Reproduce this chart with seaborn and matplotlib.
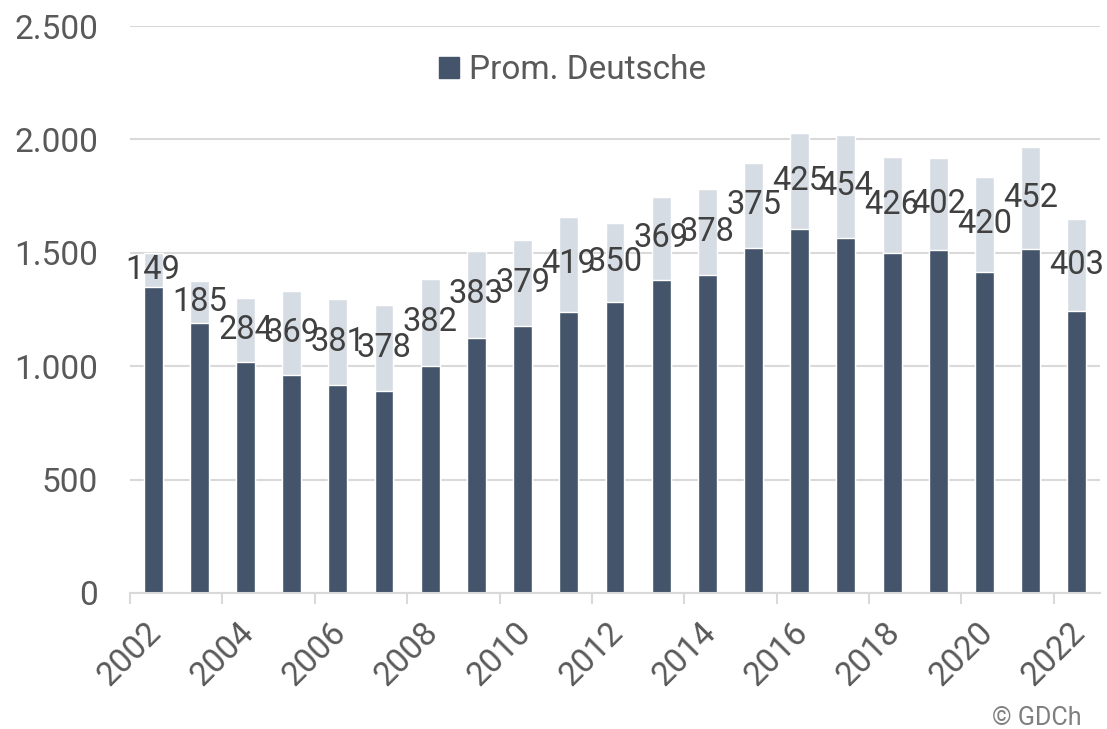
import matplotlib
matplotlib.use('Agg')
import matplotlib.pyplot as plt
import seaborn as sns
import pandas as pd
from matplotlib.patches import Patch
from matplotlib.ticker import FuncFormatter

# Daten
years = list(range(2002, 2023))
deutsche = [1350, 1190, 1018, 962, 916, 891, 1003, 1126, 1177, 1241, 1283,
            1379, 1402, 1523, 1604, 1566, 1498, 1514, 1416, 1516, 1245]
auslaender = [149, 185, 284, 369, 381, 378, 382, 383, 379, 419, 350,
              369, 378, 375, 425, 454, 426, 402, 420, 452, 403]

df = pd.DataFrame({'Jahr': [str(y) for y in years],
                   'Deutsche': deutsche,
                   'Auslaender': auslaender})
df['Gesamt'] = df['Deutsche'] + df['Auslaender']

sns.set_theme(style='white')
plt.rcParams['font.family'] = ['Roboto', 'DejaVu Sans']

dunkel = '#44546A'
hell = '#D6DCE4'

fig = plt.figure(figsize=(11.07, 7.29), dpi=100)
ax = fig.add_axes([0.1174, 0.1866, 0.8763, 0.7777])

sns.barplot(data=df, x='Jahr', y='Gesamt', color=hell, width=0.41,
            saturation=1, ax=ax)
sns.barplot(data=df, x='Jahr', y='Deutsche', color=dunkel, width=0.41,
            saturation=1, ax=ax)

# Werte der hellen Segmente
for i, row in df.iterrows():
    ax.text(i, row['Deutsche'] + row['Auslaender'] / 2, str(row['Auslaender']),
            ha='center', va='center', fontsize=23.5, color='#404040')

ax.set_ylim(0, 2500)
ax.set_yticks(range(0, 2501, 500))
ax.yaxis.set_major_formatter(FuncFormatter(lambda v, p: f'{int(v):,}'.replace(',', '.')))
ax.set_xlim(-0.5, len(years) - 0.5)
ax.set_xticks([i - 0.5 for i in range(0, len(years), 2)])
ax.set_xticklabels([str(y) for y in years[::2]], rotation=45, ha='center', va='top')

ax.set_xlabel('')
ax.set_ylabel('')
ax.grid(axis='y', color='#D9D9D9', linewidth=1.5)
ax.set_axisbelow(True)
for s in ['top', 'right', 'left']:
    ax.spines[s].set_visible(False)
ax.spines['bottom'].set_color('#D9D9D9')
ax.spines['bottom'].set_linewidth(1.5)

ax.tick_params(axis='y', length=0, pad=23, labelsize=24, labelcolor='#595959')
ax.tick_params(axis='x', length=8, width=1.5, color='#D9D9D9', direction='out',
               pad=9, labelsize=24, labelcolor='#595959', bottom=True)

ax.legend(handles=[Patch(color=dunkel, label='Prom. Deutsche')],
          loc='center', bbox_to_anchor=(0.456, 0.922), frameon=False,
          fontsize=24, handlelength=0.6, handleheight=0.6, handletextpad=0.3,
          labelcolor='#595959')

fig.text(0.977, 0.006, '© GDCh', ha='right', va='baseline', fontsize=18, color='#7F7F7F')

fig.savefig('out.png', dpi=100)
